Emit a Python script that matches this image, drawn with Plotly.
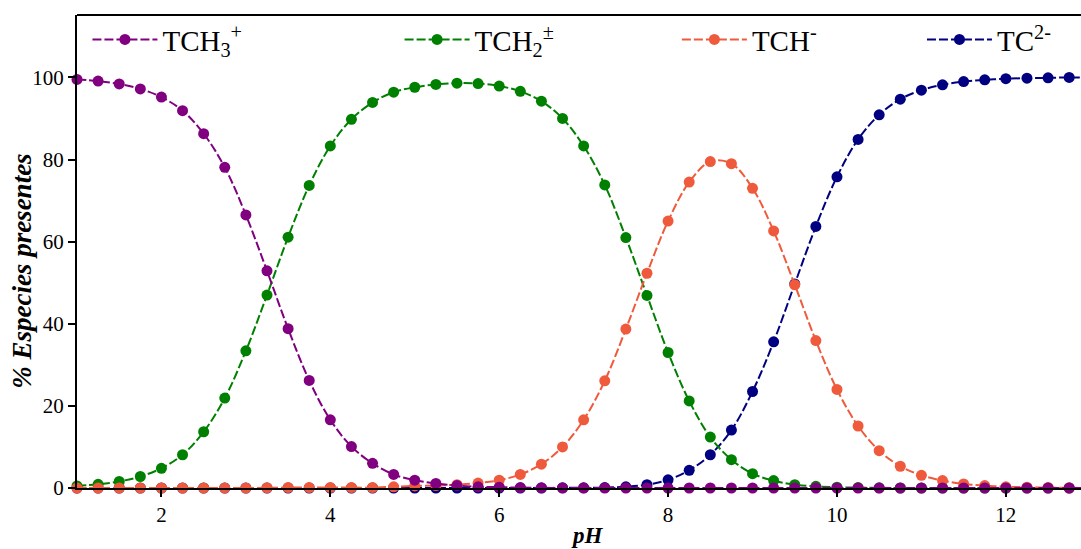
import plotly.graph_objects as go

ph = [1.0, 1.25, 1.5, 1.75, 2.0, 2.25, 2.5, 2.75, 3.0, 3.25, 3.5, 3.75, 4.0, 4.25, 4.5, 4.75,
      5.0, 5.25, 5.5, 5.75, 6.0, 6.25, 6.5, 6.75, 7.0, 7.25, 7.5, 7.75, 8.0, 8.25, 8.5, 8.75,
      9.0, 9.25, 9.5, 9.75, 10.0, 10.25, 10.5, 10.75, 11.0, 11.25, 11.5, 11.75, 12.0, 12.25,
      12.5, 12.75, 13.0]

tch3 = [99.5, 99.1, 98.4, 97.2, 95.2, 91.9, 86.3, 78.1, 66.5, 52.9, 38.8, 26.2, 16.6, 10.1, 6.0, 3.3,
        1.9, 1.1, 0.6, 0.3, 0.2, 0.1, 0.05, 0.0, 0.0, 0.0, 0.0, 0.0, 0.0, 0.0, 0.0, 0.0,
        0.0, 0.0, 0.0, 0.0, 0.0, 0.0, 0.0, 0.0, 0.0, 0.0, 0.0, 0.0, 0.0, 0.0,
        0.0, 0.0, 0.0]

tch2 = [0.5, 0.9, 1.6, 2.8, 4.8, 8.1, 13.7, 21.9, 33.4, 47.0, 61.1, 73.7, 83.3, 89.8, 93.9, 96.4,
        97.6, 98.3, 98.6, 98.5, 97.9, 96.6, 94.2, 90.0, 83.3, 73.8, 61.0, 46.9, 33.0, 21.2, 12.4, 6.9,
        3.5, 1.8, 0.8, 0.4, 0.2, 0.1, 0.05, 0.0, 0.0, 0.0, 0.0, 0.0, 0.0, 0.0,
        0.0, 0.0, 0.0]

tch = [0.0, 0.0, 0.0, 0.0, 0.0, 0.0, 0.0, 0.0, 0.0, 0.05, 0.1, 0.1, 0.1, 0.1, 0.1, 0.3,
       0.5, 0.6, 0.8, 1.2, 1.9, 3.3, 5.8, 10.0, 16.6, 26.1, 38.7, 52.3, 65.0, 74.5, 79.5, 79.0,
       73.0, 62.6, 49.5, 35.9, 24.0, 15.1, 9.1, 5.3, 3.1, 1.8, 1.0, 0.6, 0.3, 0.2,
       0.1, 0.05, 0.0]

tc = [0.0, 0.0, 0.0, 0.0, 0.0, 0.0, 0.0, 0.0, 0.0, 0.0, 0.0, 0.0, 0.0, 0.0, 0.0, 0.0,
      0.0, 0.0, 0.0, 0.0, 0.0, 0.0, 0.0, 0.05, 0.05, 0.1, 0.3, 0.8, 2.0, 4.3, 8.1, 14.1,
      23.5, 35.6, 49.7, 63.7, 75.8, 84.9, 90.9, 94.7, 96.9, 98.2, 99.0, 99.4, 99.7, 99.8,
      99.9, 100.0, 100.0]

x_ticks = [2, 4, 6, 8, 10, 12]
y_ticks = [0, 20, 40, 60, 80, 100]

names = ["TCH<sub>3</sub><sup>+</sup>", "TCH<sub>2</sub><sup>±</sup>", "TCH<sup>-</sup>", "TC<sup>2-</sup>"]
colors = ["#800080", "#008000", "#F05A3C", "#000080"]
series = [tch3, tch2, tch, tc]
legend_ids = ["legend", "legend2", "legend3", "legend4"]
legend_x = [0.0104, 0.3213, 0.5975, 0.8416]
draw_order = [3, 1, 2, 0]

SERIF = "Liberation Serif"

fig = go.Figure()
for i in draw_order:
    fig.add_trace(go.Scatter(
        x=ph, y=series[i], name=names[i], mode="lines+markers",
        line=dict(color=colors[i], width=2, dash="9px,3px", shape="spline"),
        marker=dict(color=colors[i], size=11, line=dict(width=0)),
        legend=legend_ids[i], cliponaxis=False,
    ))

legend_common = dict(orientation="h", yanchor="middle", y=0.948, xanchor="left",
                     bgcolor="rgba(0,0,0,0)", itemwidth=65,
                     font=dict(family=SERIF, size=29, color="black"))
layout_legends = {}
for lid, lx in zip(legend_ids, legend_x):
    layout_legends[lid] = dict(legend_common, x=lx)

fig.update_layout(
    width=1081, height=549,
    margin=dict(l=77, r=0, t=15, b=61, autoexpand=False),
    plot_bgcolor="white", paper_bgcolor="white",
    font=dict(family=SERIF, size=21, color="black"),
    showlegend=True,
    **layout_legends,
)

fig.update_xaxes(
    range=[1, 12.89], tickvals=x_ticks, ticktext=[str(v) for v in x_ticks],
    showgrid=False, zeroline=False, showline=True, linecolor="black", linewidth=2,
    ticks="outside", ticklen=7, tickwidth=2, tickcolor="black",
    tickfont=dict(family=SERIF, size=21, color="black"),
)
fig.update_yaxes(
    range=[0, 115.2], tickvals=y_ticks, ticktext=[str(v) for v in y_ticks],
    showgrid=False, zeroline=False, showline=True, linecolor="black", linewidth=2,
    ticks="outside", ticklen=7, tickwidth=2, tickcolor="black",
    tickfont=dict(family=SERIF, size=21, color="black"),
)

# axis titles
fig.add_annotation(text="<b><i>pH</i></b>", xref="paper", yref="paper",
                   x=0.508, y=0, yshift=-47, xanchor="center", yanchor="middle",
                   showarrow=False, font=dict(family=SERIF, size=23, color="black"))
fig.add_annotation(text="<b><i>% Especies presentes</i></b>", xref="paper", yref="paper",
                   x=0, xshift=-55, y=0.457, xanchor="center", yanchor="middle",
                   textangle=-90, showarrow=False,
                   font=dict(family=SERIF, size=27, color="black"))

fig.add_shape(type="line", xref="paper", yref="paper", x0=0, x1=1, y0=1, y1=1,
              line=dict(color="black", width=2))

fig.write_html("out.html", config={"displayModeBar": False},
               post_script="document.body.style.margin='0';document.body.style.padding='0';")
